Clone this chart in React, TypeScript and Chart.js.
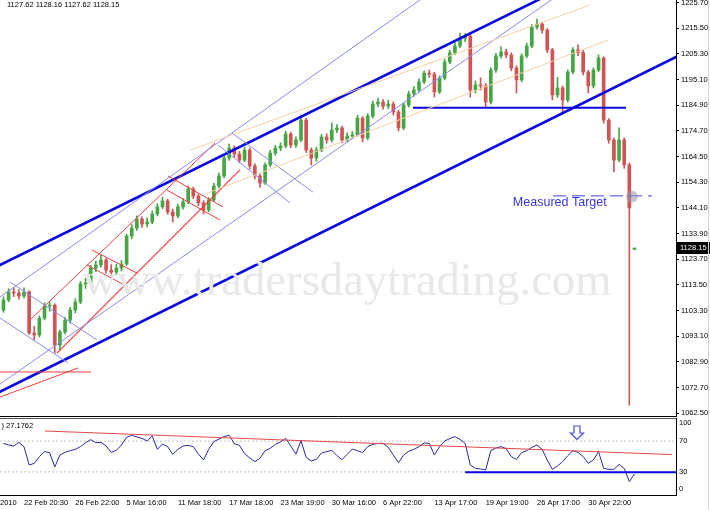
import React, { useEffect, useRef } from "react";
import { Chart, registerables } from "chart.js";

Chart.register(...registerables);

// ---------------- data ----------------
const opens = [
  1103.5, 1107.5, 1110.7, 1110.3, 1109.1, 1110.7, 1094.4, 1093.6, 1100.3, 1105.1,
  1105.5, 1089.6, 1094.8, 1099.5, 1103.5, 1106.7, 1113.9, 1114.3, 1120.2, 1121.4,
  1123.4, 1119.4, 1118.6, 1120.2, 1121.8, 1132.9, 1136.1, 1139.7, 1137.7, 1138.5,
  1141.7, 1144.5, 1146.9, 1142.5, 1140.9, 1144.5, 1146.5, 1151.6, 1148.8, 1146.1,
  1143.3, 1147.3, 1152.8, 1156.8, 1163.9, 1167.9, 1165.5, 1163.1, 1167.1, 1160.8,
  1156.8, 1154.0, 1161.2, 1165.9, 1167.9, 1168.7, 1173.5, 1169.1, 1171.1, 1179.0,
  1167.1, 1163.9, 1167.1, 1172.3, 1171.1, 1175.1, 1175.9, 1171.1, 1172.7, 1173.2,
  1179.8, 1171.9, 1180.6, 1185.4, 1186.2, 1184.6, 1185.4, 1182.2, 1175.9, 1185.0,
  1189.4, 1191.0, 1194.2, 1197.7, 1197.3, 1190.2, 1195.7, 1202.1, 1205.7, 1208.5,
  1211.6, 1212.4, 1191.0, 1193.0, 1192.6, 1186.2, 1198.9, 1204.5, 1206.1, 1204.9,
  1199.7, 1195.0, 1204.5, 1208.5, 1216.0, 1217.2, 1214.8, 1206.9, 1189.0, 1191.8,
  1187.0, 1198.1, 1206.9, 1205.9, 1198.1, 1192.6, 1198.9, 1203.7, 1179.0, 1171.1,
  1163.1, 1171.1, 1161.2, 1127.62,
];
const highs = [
  1108.8, 1112.0, 1112.3, 1111.5, 1112.3, 1111.2, 1097.0, 1101.2, 1106.4, 1106.8,
  1106.0, 1095.6, 1100.6, 1104.6, 1108.0, 1114.9, 1116.2, 1121.3, 1123.0, 1125.4,
  1124.2, 1121.6, 1121.8, 1123.2, 1133.7, 1137.5, 1141.0, 1140.6, 1140.2, 1142.9,
  1145.8, 1148.4, 1147.6, 1143.6, 1145.5, 1147.8, 1152.8, 1152.4, 1149.6, 1147.0,
  1148.2, 1153.9, 1158.0, 1165.0, 1169.5, 1168.8, 1166.6, 1168.2, 1167.9, 1161.6,
  1157.6, 1162.0, 1167.0, 1169.0, 1170.0, 1174.6, 1174.2, 1172.4, 1181.0, 1179.8,
  1168.0, 1168.3, 1173.4, 1173.6, 1177.9, 1177.2, 1176.6, 1174.0, 1174.5, 1181.0,
  1180.4, 1181.6, 1186.6, 1187.8, 1187.2, 1186.9, 1186.3, 1183.0, 1185.9, 1190.5,
  1192.3, 1195.4, 1198.6, 1198.9, 1198.0, 1196.6, 1203.2, 1206.8, 1209.8, 1213.6,
  1213.4, 1213.0, 1194.6, 1195.8, 1193.6, 1199.8, 1205.6, 1208.1, 1207.2, 1205.8,
  1200.6, 1205.4, 1209.6, 1217.0, 1219.2, 1218.0, 1215.4, 1207.6, 1196.0, 1192.6,
  1199.0, 1207.8, 1208.9, 1206.6, 1198.8, 1199.8, 1204.9, 1204.2, 1179.6, 1172.0,
  1175.9, 1172.0, 1162.0, 1128.16,
];
const lows = [
  1102.6, 1106.8, 1108.9, 1107.8, 1108.2, 1093.8, 1091.6, 1092.8, 1099.6, 1103.0,
  1086.4, 1087.6, 1094.0, 1098.3, 1102.4, 1106.0, 1112.1, 1113.6, 1118.8, 1120.6,
  1118.2, 1117.1, 1117.5, 1119.0, 1121.2, 1131.8, 1135.2, 1136.4, 1136.6, 1137.8,
  1140.9, 1143.8, 1141.6, 1138.5, 1140.1, 1143.6, 1145.8, 1147.8, 1145.0, 1141.7,
  1142.6, 1146.6, 1152.0, 1156.0, 1163.0, 1164.2, 1162.0, 1162.4, 1159.6, 1155.6,
  1152.4, 1153.4, 1160.5, 1165.0, 1166.8, 1168.0, 1168.0, 1168.2, 1170.4, 1166.2,
  1161.2, 1162.6, 1166.4, 1169.8, 1170.4, 1174.0, 1170.0, 1170.3, 1171.6, 1172.6,
  1170.3, 1171.2, 1179.8, 1184.3, 1183.4, 1183.6, 1181.0, 1174.7, 1175.2, 1184.2,
  1188.4, 1190.2, 1193.5, 1196.0, 1188.2, 1189.5, 1195.0, 1201.4, 1205.0, 1207.8,
  1210.2, 1188.2, 1189.8, 1191.0, 1183.8, 1185.4, 1198.0, 1203.6, 1203.8, 1198.6,
  1189.8, 1194.2, 1203.8, 1207.8, 1215.2, 1213.6, 1205.8, 1187.0, 1188.0, 1182.2,
  1186.2, 1197.4, 1204.6, 1197.0, 1189.8, 1191.8, 1198.2, 1177.8, 1169.8, 1158.4,
  1162.4, 1159.8, 1065.7, 1127.62,
];
const closes = [
  1107.5, 1110.7, 1110.3, 1109.1, 1110.7, 1094.4, 1093.6, 1100.3, 1105.1, 1105.5,
  1089.6, 1094.8, 1099.5, 1103.5, 1106.7, 1113.9, 1114.3, 1120.2, 1121.4, 1123.4,
  1119.4, 1118.6, 1120.2, 1121.8, 1132.9, 1136.1, 1139.7, 1137.7, 1138.5, 1141.7,
  1144.5, 1146.9, 1142.5, 1140.9, 1144.5, 1146.5, 1151.6, 1148.8, 1146.1, 1143.3,
  1147.3, 1152.8, 1156.8, 1163.9, 1167.9, 1165.5, 1163.1, 1167.1, 1160.8, 1156.8,
  1154.0, 1161.2, 1165.9, 1167.9, 1168.7, 1173.5, 1169.1, 1171.1, 1179.0, 1167.1,
  1163.9, 1167.1, 1172.3, 1171.1, 1175.1, 1175.9, 1171.1, 1172.7, 1173.2, 1179.8,
  1171.9, 1180.6, 1185.4, 1186.2, 1184.6, 1185.4, 1182.2, 1175.9, 1185.0, 1189.4,
  1191.0, 1194.2, 1197.7, 1197.3, 1190.2, 1195.7, 1202.1, 1205.7, 1208.5, 1211.6,
  1212.4, 1191.0, 1193.0, 1192.6, 1186.2, 1198.9, 1204.5, 1206.1, 1204.9, 1199.7,
  1195.0, 1204.5, 1208.5, 1216.0, 1217.2, 1214.8, 1206.9, 1189.0, 1191.8, 1187.0,
  1198.1, 1206.9, 1205.9, 1198.1, 1192.6, 1198.9, 1203.7, 1179.0, 1171.1, 1163.1,
  1171.1, 1161.2, 1144.1, 1128.15,
];
const rsiValues = [
  67.1, 64.9, 63.6, 68.4, 62.8, 39.0, 41.1, 49.8, 56.3, 55.0,
  36.4, 51.9, 55.4, 57.6, 59.3, 62.8, 67.9, 71.9, 67.9, 68.4,
  63.6, 55.4, 58.0, 64.9, 74.9, 77.5, 75.3, 73.6, 70.1, 76.6,
  59.3, 66.2, 62.8, 52.8, 59.3, 63.6, 64.5, 62.8, 53.2, 45.5,
  59.3, 69.3, 72.7, 75.8, 77.5, 66.7, 64.5, 53.7, 48.1, 43.3,
  47.6, 57.6, 60.6, 65.8, 68.8, 73.6, 63.6, 53.2, 70.6, 48.9,
  44.2, 46.3, 54.5, 56.3, 58.0, 51.1, 45.9, 52.8, 59.7, 57.6,
  55.0, 62.8, 65.8, 67.1, 67.1, 61.9, 51.9, 42.0, 51.9, 56.7,
  59.3, 62.8, 67.5, 67.1, 51.9, 62.8, 70.1, 73.2, 75.8, 72.3,
  67.1, 39.0, 34.6, 33.8, 32.5, 57.6, 61.0, 62.8, 60.2, 49.8,
  46.3, 55.0, 57.6, 61.9, 64.9, 59.3, 45.5, 33.3, 37.7, 43.3,
  51.1, 57.6, 55.4, 49.8, 41.1, 45.5, 56.3, 34.6, 33.3, 33.3,
  39.8, 34.6, 17.5, 27.1762,
];
const dateLabels = [
  "22 Feb 20:30", "26 Feb 22:00", "5 Mar 16:00", "11 Mar 18:00", "17 Mar 18:00",
  "23 Mar 19:00", "30 Mar 16:00", "6 Apr 22:00", "13 Apr 17:00", "19 Apr 19:00",
  "26 Apr 17:00", "30 Apr 22:00",
];
const dateTickIndex = [4, 14, 24, 34, 44, 54, 64, 74, 84, 94, 104, 114];
const priceTicks = [
  1062.5, 1072.7, 1082.9, 1093.1, 1103.3, 1113.5, 1123.7, 1133.9, 1144.1,
  1154.3, 1164.5, 1174.7, 1184.9, 1195.1, 1205.3, 1215.5, 1225.7,
];
const rsiLevels = [30, 70];
const rsiEdgeLabels = [100, 0];

// drawn objects, in data space (candle index, price)
const channelUpper = [[-2, 1120.07], [106, 1228.56]];
const channelLower = [[-2, 1069.72], [133, 1206.02]];
const thinUpper = [[-2, 1106.8], [83, 1229.4]];
const thinLower = [[-2, 1072.2], [108, 1228.5]];
const redUpper = [[4.78, 1098.8], [41.23, 1169.9]];
const redLower = [[10.43, 1086.4], [46.1, 1159.2]];
const redFlagA1 = [[17.25, 1127.4], [26.03, 1118.2]];
const redFlagA2 = [[16.28, 1121.4], [24.27, 1112.7]];
const redFlagB1 = [[32.07, 1156.8], [42.79, 1144.5]];
const redFlagB2 = [[31.87, 1151.2], [42.2, 1139.3]];
const redFlat = [[-2, 1078.9], [17.06, 1078.9]];
const redRise = [[-2, 1067.9], [14.52, 1080.5]];
const blueFlagA1 = [[1.27, 1114.65], [18.23, 1091.6]];
const blueFlagA2 = [[-2, 1102.1], [12.58, 1082.5]];
const blueFlagB1 = [[44.54, 1173.9], [60.33, 1150.4]];
const blueFlagB2 = [[41.84, 1169.1], [55.85, 1146.1]];
const peachUpper = [[36.36, 1167.1], [114.33, 1224.76]];
const peachLower = [[39.28, 1149.6], [117.84, 1210.85]];
const neckline = [[79.83, 1183.94], [121.35, 1183.94]];
const measuredTarget = [[107.12, 1148.9], [126.41, 1148.9]];
const targetMarker = [[122.5, 1148.5]];
const targetLabelAt = [99.3, 1146.1];
const rsiTrend = [[8.09, 83.1], [130.3, 52.5]];
const rsiSupport = [[90, 29.5], [132, 29.5]];
const arrowAt = [111.8, 89.6, 80.5, 72.3];

// ---------------- styling ----------------
const FONT = "'Liberation Sans', Arial, sans-serif";
const X_MIN = -0.68;
const X_MAX = 131.1;
const P_MIN = 1061.4;
const P_MAX = 1226.75;
const UP = "#46a646";
const DOWN = "#d05454";
const BLUE = "#0a0ae0";
const THIN = "#8a8af0";
const RED = "#f03c3c";
const PEACH = "#f7cfa4";

const toPoints = (list: number[][]) => list.map(([x, y]) => ({ x, y }));
const lineSet = (list: number[][], color: string, width = 1, extra: any = {}) => ({
  type: "line",
  data: toPoints(list),
  borderColor: color,
  backgroundColor: color,
  borderWidth: width,
  pointRadius: 0,
  pointHoverRadius: 0,
  fill: false,
  tension: 0,
  order: 0,
  ...extra,
});

function mainConfig(): any {
  const idx = closes.map((_, i) => i);
  const colors = idx.map((i) => (closes[i] >= opens[i] ? UP : DOWN));
  const last = closes.length - 1;
  const header = [opens[last], highs[last], lows[last], closes[last]]
    .map((v) => v.toFixed(2))
    .join(" ");

  const decor = {
    id: "mainDecor",
    afterDatasetsDraw(chart: any) {
      const { ctx, chartArea: a } = chart;
      ctx.save();
      ctx.beginPath();
      ctx.rect(a.left, a.top, a.right - a.left, a.bottom - a.top);
      ctx.clip();
      ctx.font = "46.7px 'Liberation Serif', 'Times New Roman', serif";
      ctx.fillStyle = "#e8e8e8";
      ctx.textAlign = "left";
      ctx.textBaseline = "alphabetic";
      ctx.fillText("www.tradersdaytrading.com", a.left + 83, a.top + 295);
      ctx.restore();
    },
    afterDraw(chart: any) {
      const { ctx, chartArea: a, scales } = chart;
      const x = scales.x;
      const y = scales.y;
      ctx.save();
      ctx.textAlign = "left";
      ctx.textBaseline = "middle";
      ctx.font = `7.5px ${FONT}`;
      ctx.fillStyle = "#000";
      ctx.fillText(header, 7, 5);
      const py = y.getPixelForValue(closes[last]);
      ctx.fillStyle = "#000";
      ctx.fillRect(a.right + 1, Math.round(py) - 6, chart.width - a.right - 1, 12);
      ctx.fillStyle = "#fff";
      ctx.fillText(closes[last].toFixed(2), a.right + 4, py);
      ctx.font = `12.5px ${FONT}`;
      ctx.fillStyle = "#3636d8";
      ctx.fillText(
        "Measured Target",
        x.getPixelForValue(targetLabelAt[0]),
        y.getPixelForValue(targetLabelAt[1])
      );
      ctx.restore();
    },
  };

  return {
    type: "bar",
    data: {
      datasets: [
        {
          type: "bar",
          data: idx.map((i) => ({ x: i, y: [lows[i], highs[i]] })),
          backgroundColor: colors,
          borderWidth: 0,
          barThickness: 1,
          grouped: false,
          order: 20,
        },
        {
          type: "bar",
          data: idx.map((i) => ({ x: i, y: [opens[i], closes[i]] })),
          backgroundColor: colors,
          borderWidth: 0,
          barThickness: 3,
          minBarLength: 1,
          grouped: false,
          order: 19,
        },
        lineSet(peachUpper, PEACH),
        lineSet(peachLower, PEACH),
        lineSet(thinUpper, THIN),
        lineSet(thinLower, THIN),
        lineSet(blueFlagA1, THIN),
        lineSet(blueFlagA2, THIN),
        lineSet(blueFlagB1, THIN),
        lineSet(blueFlagB2, THIN),
        lineSet(redUpper, RED),
        lineSet(redLower, RED, 1.2),
        lineSet(redFlagA1, RED),
        lineSet(redFlagA2, RED),
        lineSet(redFlagB1, RED),
        lineSet(redFlagB2, RED),
        lineSet(redFlat, RED),
        lineSet(redRise, RED),
        lineSet(channelUpper, BLUE, 2.6),
        lineSet(channelLower, BLUE, 2.6),
        lineSet(neckline, BLUE, 2),
        lineSet(measuredTarget, "#4040e0", 1, { borderDash: [13, 6] }),
        {
          type: "line",
          data: toPoints(targetMarker),
          showLine: false,
          pointRadius: 6,
          pointBorderWidth: 0,
          pointBackgroundColor: "rgba(150,150,175,0.55)",
          borderColor: "rgba(150,150,175,0.55)",
          order: -1,
        },
      ],
    },
    options: {
      responsive: false,
      animation: false,
      events: [],
      layout: { autoPadding: false, padding: 0 },
      plugins: { legend: { display: false }, tooltip: { enabled: false } },
      scales: {
        x: {
          type: "linear",
          min: X_MIN,
          max: X_MAX,
          offset: false,
          bounds: "data",
          ticks: { display: false },
          grid: { display: false, drawTicks: false },
          border: { display: true, color: "#000" },
          afterFit: (s: any) => {
            s.height = 2;
            s.paddingLeft = 0;
            s.paddingRight = 0;
          },
        },
        y: {
          type: "linear",
          position: "right",
          min: P_MIN,
          max: P_MAX,
          bounds: "data",
          beginAtZero: false,
          afterBuildTicks: (s: any) => {
            s.ticks = priceTicks.map((v) => ({ value: v }));
          },
          afterFit: (s: any) => {
            s.width = 34;
            s.paddingTop = 0;
            s.paddingBottom = 0;
          },
          ticks: {
            autoSkip: false,
            padding: 2,
            color: "#000",
            font: { family: FONT, size: 7.5 },
            callback: (v: any) => Number(v).toFixed(2),
          },
          grid: {
            display: true,
            drawOnChartArea: false,
            drawTicks: true,
            tickLength: 3,
            color: "#000",
          },
          border: { display: true, color: "#000" },
        },
      },
    },
    plugins: [decor],
  };
}

function rsiConfig(): any {
  const idx = rsiValues.map((_, i) => i);
  const decor = {
    id: "rsiDecor",
    afterDatasetsDraw(chart: any) {
      const { ctx, scales } = chart;
      const x = scales.x;
      const y = scales.y;
      const cx = x.getPixelForValue(arrowAt[0]);
      const yTop = y.getPixelForValue(arrowAt[1]);
      const yHead = y.getPixelForValue(arrowAt[2]);
      const yTip = y.getPixelForValue(arrowAt[3]);
      ctx.save();
      ctx.beginPath();
      ctx.moveTo(cx - 3, yTop);
      ctx.lineTo(cx + 3, yTop);
      ctx.lineTo(cx + 3, yHead);
      ctx.lineTo(cx + 6.5, yHead);
      ctx.lineTo(cx, yTip);
      ctx.lineTo(cx - 6.5, yHead);
      ctx.lineTo(cx - 3, yHead);
      ctx.closePath();
      ctx.fillStyle = "#fff";
      ctx.fill();
      ctx.strokeStyle = "#4a4ad8";
      ctx.lineWidth = 1.2;
      ctx.stroke();
      ctx.restore();
    },
    afterDraw(chart: any) {
      const { ctx, chartArea: a, scales } = chart;
      const y = scales.y;
      ctx.save();
      ctx.strokeStyle = "#555";
      ctx.lineWidth = 1;
      ctx.beginPath();
      ctx.moveTo(0, Math.round(a.top) + 0.5);
      ctx.lineTo(a.right, Math.round(a.top) + 0.5);
      ctx.stroke();
      ctx.font = `7.5px ${FONT}`;
      ctx.fillStyle = "#000";
      ctx.textAlign = "left";
      ctx.textBaseline = "middle";
      ctx.fillText(String(rsiEdgeLabels[0]), a.right + 3, y.getPixelForValue(rsiEdgeLabels[0]) + 5);
      ctx.fillText(String(rsiEdgeLabels[1]), a.right + 3, y.getPixelForValue(rsiEdgeLabels[1]) - 6);
      ctx.fillText(") " + rsiValues[rsiValues.length - 1].toFixed(4), 1.5, a.top + 8);
      ctx.fillText("2010", 0, a.bottom + 8);
      ctx.restore();
    },
  };

  return {
    type: "line",
    data: {
      datasets: [
        ...rsiLevels.map((lv) =>
          lineSet([[X_MIN, lv], [X_MAX, lv]], "#c4c4c4", 1, { borderDash: [2, 2], order: 5 })
        ),
        lineSet(rsiTrend, "#e04848", 1, { order: 2 }),
        lineSet(rsiSupport, BLUE, 2, { order: 1 }),
        lineSet(
          idx.map((i) => [i, rsiValues[i]]),
          "#2a2aa0",
          1,
          { order: 3 }
        ),
      ],
    },
    options: {
      responsive: false,
      animation: false,
      events: [],
      layout: { autoPadding: false, padding: { top: 18, left: 0, right: 0, bottom: 0 } },
      plugins: { legend: { display: false }, tooltip: { enabled: false } },
      scales: {
        x: {
          type: "linear",
          min: X_MIN,
          max: X_MAX,
          offset: false,
          bounds: "data",
          afterBuildTicks: (s: any) => {
            s.ticks = dateTickIndex.map((v) => ({ value: v }));
          },
          afterFit: (s: any) => {
            s.height = 15;
            s.paddingLeft = 0;
            s.paddingRight = 0;
          },
          ticks: {
            autoSkip: false,
            maxRotation: 0,
            minRotation: 0,
            align: "start",
            padding: 3,
            color: "#000",
            font: { family: FONT, size: 7.5 },
            callback: (_v: any, i: number) => dateLabels[i],
          },
          grid: { display: false, drawTicks: false },
          border: { display: true, color: "#000" },
        },
        y: {
          type: "linear",
          position: "right",
          min: 0,
          max: 100,
          bounds: "data",
          afterBuildTicks: (s: any) => {
            s.ticks = rsiLevels.map((v) => ({ value: v }));
          },
          afterFit: (s: any) => {
            s.width = 34;
            s.paddingTop = 0;
            s.paddingBottom = 0;
          },
          ticks: {
            autoSkip: false,
            padding: 3,
            color: "#000",
            font: { family: FONT, size: 7.5 },
            callback: (v: any) => String(v),
          },
          grid: { display: false, drawTicks: false },
          border: { display: true, color: "#000" },
        },
      },
    },
    plugins: [decor],
  };
}

export default function App() {
  const mainRef = useRef<HTMLCanvasElement>(null);
  const rsiRef = useRef<HTMLCanvasElement>(null);

  useEffect(() => {
    const c1 = new Chart(mainRef.current as HTMLCanvasElement, mainConfig());
    const c2 = new Chart(rsiRef.current as HTMLCanvasElement, rsiConfig());
    return () => {
      c1.destroy();
      c2.destroy();
    };
  }, []);

  return (
    <div
      style={{
        position: "fixed",
        left: 0,
        top: 0,
        width: 710,
        height: 510,
        background: "#fff",
        overflow: "hidden",
      }}
    >
      <canvas ref={mainRef} width={710} height={418} style={{ position: "absolute", left: 0, top: 0 }} />
      <canvas ref={rsiRef} width={710} height={110} style={{ position: "absolute", left: 0, top: 400 }} />
      <div style={{ position: "absolute", left: 708, top: 0, width: 1, height: 510, background: "#d6d6d6" }} />
    </div>
  );
}
